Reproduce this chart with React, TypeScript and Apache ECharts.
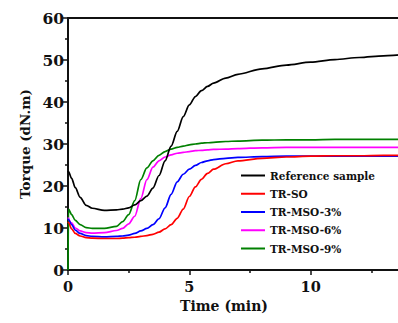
import React, { useEffect, useRef } from "react";
import * as echarts from "echarts";

const timeMin = [0, 0.02, 0.15, 0.3, 0.5, 0.75, 1, 1.5, 2, 2.25, 2.5, 2.75, 3, 3.25, 3.5, 3.75, 4, 4.25, 4.5, 4.75, 5, 5.25, 5.5, 5.75, 6, 6.5, 7, 8, 9, 10, 11, 12, 13, 14];

const seriesNames = ["Reference sample", "TR-SO", "TR-MSO-3%", "TR-MSO-6%", "TR-MSO-9%"];
const seriesColors = ["#000000", "#ff0000", "#0000ff", "#ff00ff", "#008000"];

const referenceTorque = [23.6, 23.4, 21.8, 19.6, 17.3, 15.4, 14.7, 14.2, 14.3, 14.5, 14.8, 15.5, 16.5, 17.6, 19.5, 22.5, 26, 29.5, 33, 36.5, 39.3, 41.3, 42.7, 43.7, 44.5, 45.7, 46.6, 47.9, 48.8, 49.5, 50.1, 50.6, 51.0, 51.4];
const trSoTorque = [11.5, 11.3, 9.8, 8.7, 8.1, 7.7, 7.6, 7.5, 7.5, 7.6, 7.7, 7.8, 8.0, 8.2, 8.5, 9.0, 9.8, 10.8, 12.3, 14.5, 17.5, 19.8, 21.6, 23.0, 24.0, 25.3, 26.0, 26.6, 26.9, 27.1, 27.2, 27.2, 27.3, 27.3];
const trMso3Torque = [12.2, 12.0, 10.8, 9.5, 8.7, 8.2, 8.0, 7.9, 8.0, 8.1, 8.3, 8.7, 9.3, 9.9, 10.8, 12.2, 14.8, 18.0, 21.0, 22.8, 24.0, 24.9, 25.6, 26.0, 26.3, 26.6, 26.8, 27.0, 27.1, 27.1, 27.1, 27.1, 27.1, 27.1];
const trMso6Torque = [12.5, 12.4, 11.2, 10.0, 9.3, 8.9, 8.8, 8.9, 9.4, 9.9, 11.0, 12.8, 17.0, 21.5, 24.5, 26.0, 26.9, 27.4, 27.8, 28.0, 28.2, 28.4, 28.5, 28.6, 28.7, 28.8, 28.9, 29.1, 29.2, 29.2, 29.2, 29.2, 29.2, 29.2];
const trMso9Torque = [0, 14.5, 13.2, 11.8, 10.8, 10.1, 9.9, 9.9, 10.4, 11.5, 13.2, 16.5, 21.5, 24.3, 26.0, 27.3, 28.2, 28.8, 29.2, 29.5, 29.8, 30.0, 30.2, 30.3, 30.4, 30.6, 30.7, 30.9, 31.0, 31.0, 31.1, 31.1, 31.1, 31.1];

const yTicks = { min: 0, max: 60, interval: 10 };
const xTicks = { min: 0, max: 15, interval: 5 };
const xTickLabels = ["0", "5", "10"];

const FONT = "'DejaVu Serif', 'Liberation Serif', serif";

export default function App() {
  const ref = useRef<HTMLDivElement>(null);
  useEffect(() => {
    if (!ref.current) return;
    const chart = echarts.init(ref.current, undefined, { renderer: "svg", width: 435, height: 323 });
    const all = [referenceTorque, trSoTorque, trMso3Torque, trMso6Torque, trMso9Torque];
    const series = all.map((vals, i) => ({
      name: seriesNames[i],
      type: "line",
      data: vals.map((v, k) => [timeMin[k], v]),
      symbol: "none",
      smooth: 0.3,
      smoothMonotone: "x",
      lineStyle: { color: seriesColors[i], width: 1.7 },
      itemStyle: { color: seriesColors[i] },
      z: 10 - i,
    }));
    chart.setOption({
      animation: false,
      backgroundColor: "#ffffff",
      grid: { left: 68, right: 0, top: 18, bottom: 53, containLabel: false },
      legend: {
        orient: "vertical",
        left: 236,
        top: 165,
        icon: "rect",
        itemWidth: 24,
        itemHeight: 2,
        itemGap: 7.25,
        data: seriesNames,
        textStyle: { fontFamily: FONT, fontWeight: "bold", fontSize: 10.5, color: "#111" },
      },
      xAxis: [
        {
          type: "value",
          min: xTicks.min,
          max: xTicks.max,
          interval: xTicks.interval,
          name: "Time (min)",
          nameLocation: "middle",
          nameGap: 23,
          nameTextStyle: { fontFamily: FONT, fontWeight: "bold", fontSize: 14, color: "#111", padding: [0, 52, 0, 0] },
          axisLine: { show: true, onZero: false, lineStyle: { color: "#111", width: 2 } },
          axisTick: { show: true, inside: false, length: 5, lineStyle: { color: "#111", width: 1.5 } },
          minorTick: { show: true, splitNumber: 2, length: 3, lineStyle: { color: "#111", width: 1.5 } },
          axisLabel: {
            margin: 9,
            fontFamily: FONT,
            fontWeight: "bold",
            fontSize: 14.5,
            color: "#111",
            formatter: (v: number) => (xTickLabels.includes(String(v)) ? String(v) : ""),
          },
          splitLine: { show: false },
        },
        {
          type: "value",
          position: "top",
          min: xTicks.min,
          max: xTicks.max,
          axisLine: { show: true, onZero: false, lineStyle: { color: "#111", width: 2 } },
          axisTick: { show: false },
          axisLabel: { show: false },
          splitLine: { show: false },
        },
      ],
      yAxis: {
        type: "value",
        min: yTicks.min,
        max: yTicks.max,
        interval: yTicks.interval,
        name: "Torque (dN.m)",
        nameLocation: "middle",
        nameGap: 34,
        nameTextStyle: { fontFamily: FONT, fontWeight: "bold", fontSize: 13.5, color: "#111" },
        axisLine: { show: true, onZero: false, lineStyle: { color: "#111", width: 2 } },
        axisTick: { show: true, inside: false, length: 5, lineStyle: { color: "#111", width: 1.5 } },
        minorTick: { show: true, splitNumber: 2, length: 3, lineStyle: { color: "#111", width: 1.5 } },
        axisLabel: { margin: 4, fontFamily: FONT, fontWeight: "bold", fontSize: 15.5, color: "#111" },
        splitLine: { show: false },
      },
      series,
    });
    return () => chart.dispose();
  }, []);
  return <div ref={ref} style={{ position: "fixed", left: 0, top: 0, width: 435, height: 323 }} />;
}
